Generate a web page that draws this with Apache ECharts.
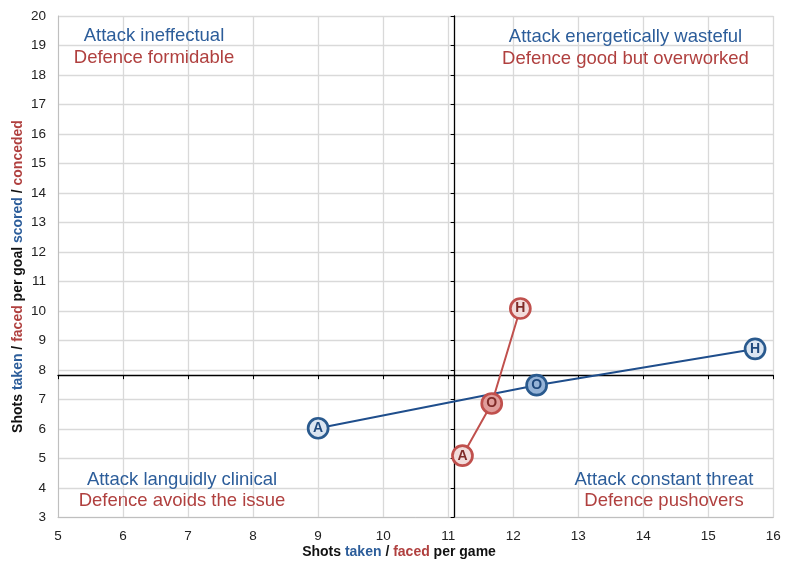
<!DOCTYPE html>
<html><head><meta charset="utf-8">
<script src="https://cdn.jsdelivr.net/npm/echarts@6/dist/echarts.min.js"></script>
<style>html,body{margin:0;padding:0;background:#fff}#c{width:788px;height:562px}</style>
</head><body><div id="c"></div>
<script>
const pointLabels = ['A', 'O', 'H'];
const attackX = [9.0, 12.36, 15.72];
const attackY = [6.02, 7.48, 8.71];
const defenceX = [11.22, 11.67, 12.11];
const defenceY = [5.09, 6.86, 10.08];
const xTicks = [5, 6, 7, 8, 9, 10, 11, 12, 13, 14, 15, 16];
const yTicks = [3, 4, 5, 6, 7, 8, 9, 10, 11, 12, 13, 14, 15, 16, 17, 18, 19, 20];
const quadX = 11.1;
const quadY = 7.82;
const quadrantTexts = [
  ['Attack ineffectual', 'Defence formidable'],
  ['Attack energetically wasteful', 'Defence good but overworked'],
  ['Attack languidly clinical', 'Defence avoids the issue'],
  ['Attack constant threat', 'Defence pushovers']
];

const FONT = 'Liberation Sans, Arial, sans-serif';
const BLUE = '#2c5d9a', RED = '#b0403f';
const W = 788, H = 562;
const G = {left: 58, right: 14.7, top: 16, bottom: 44.7};
const gw = W - G.left - G.right, gh = H - G.top - G.bottom;
const xMin = xTicks[0], xMax = xTicks[xTicks.length - 1];
const yMin = yTicks[0], yMax = yTicks[yTicks.length - 1];
const offX = -(quadY - yMin) / (yMax - yMin) * gh;
const offY = -(quadX - xMin) / (xMax - xMin) * gw;

const chart = echarts.init(document.getElementById('c'), null, {renderer: 'canvas'});

function pts(xs, ys) { return xs.map((x, i) => ({value: [x, ys[i]], name: pointLabels[i]})); }

function series(xs, ys, line, border, light, dark, txt) {
  return {
    type: 'line', data: pts(xs, ys).map((d, i) => Object.assign(d, {
      itemStyle: {color: i === 1 ? dark : light, borderColor: border, borderWidth: 2.7}
    })),
    symbol: 'circle', symbolSize: 20, z: 5,
    lineStyle: {color: line, width: 2},
    label: {show: true, position: 'inside', formatter: p => p.name, color: txt,
      fontWeight: 'bold', fontSize: 14, fontFamily: FONT},
    emphasis: {disabled: true}, animation: false
  };
}

const graphics = [];
const qPos = [[154, 36, 57.7], [625.5, 36.7, 59], [182, 480, 500.7], [664, 480, 500.5]];
quadrantTexts.forEach((t, i) => {
  const p = qPos[i];
  graphics.push({type: 'text', z: 100, x: p[0], y: p[1], style: {text: t[0], fill: BLUE, font: '18.5px ' + FONT, textAlign: 'center', textVerticalAlign: 'middle'}});
  graphics.push({type: 'text', z: 100, x: p[0], y: p[2], style: {text: t[1], fill: RED, font: '18.5px ' + FONT, textAlign: 'center', textVerticalAlign: 'middle'}});
});
const tf = 'bold 14px ' + FONT;
const rich = {k: {fill: '#111', font: tf}, b: {fill: BLUE, font: tf}, r: {fill: RED, font: tf}};
graphics.push({type: 'text', x: 399, y: 552, style: {
  text: '{k|Shots }{b|taken}{k| / }{r|faced}{k| per game}', textAlign: 'center', textVerticalAlign: 'middle', rich: rich
}});
graphics.push({type: 'text', x: 18, y: 276.5, rotation: Math.PI / 2, style: {
  text: '{k|Shots }{b|taken}{k| / }{r|faced}{k| per goal }{b|scored}{k| / }{r|conceded}', textAlign: 'center', textVerticalAlign: 'middle', rich: rich
}});

chart.setOption({
  animation: false,
  grid: G,
  xAxis: [{
    type: 'value', min: xMin, max: xMax, interval: 1,
    axisLine: {show: true, lineStyle: {color: '#bfbfbf', width: 1}},
    axisTick: {show: false},
    axisLabel: {color: '#222', fontSize: 13.5, fontFamily: FONT, margin: 12},
    splitLine: {show: true, lineStyle: {color: '#d9d9d9', width: 1.3}}
  }, {
    type: 'value', min: xMin, max: xMax, interval: 1, position: 'bottom', offset: offX,
    axisLine: {show: true, onZero: false, lineStyle: {color: '#000', width: 1.3}},
    axisTick: {show: true, length: 4, lineStyle: {color: '#000', width: 1}},
    axisLabel: {show: false}, splitLine: {show: false}
  }],
  yAxis: [{
    type: 'value', min: yMin, max: yMax, interval: 1,
    axisLine: {show: true, lineStyle: {color: '#bfbfbf', width: 1}},
    axisTick: {show: false},
    axisLabel: {color: '#222', fontSize: 13.5, fontFamily: FONT, margin: 12},
    splitLine: {show: true, lineStyle: {color: '#d9d9d9', width: 1.3}}
  }, {
    type: 'value', min: yMin, max: yMax, interval: 1, position: 'left', offset: offY,
    axisLine: {show: true, onZero: false, lineStyle: {color: '#000', width: 1.3}},
    axisTick: {show: true, length: 4, lineStyle: {color: '#000', width: 1}},
    axisLabel: {show: false}, splitLine: {show: false}
  }],
  graphic: graphics,
  series: [
    series(attackX, attackY, '#1f4e8c', '#2a5a8e', '#dbe5f1', '#95b3d7', '#1f497d'),
    series(defenceX, defenceY, '#c0504d', '#c0504d', '#f2dcdb', '#e09d9b', '#7f2b28')
  ]
});
</script></body></html>
